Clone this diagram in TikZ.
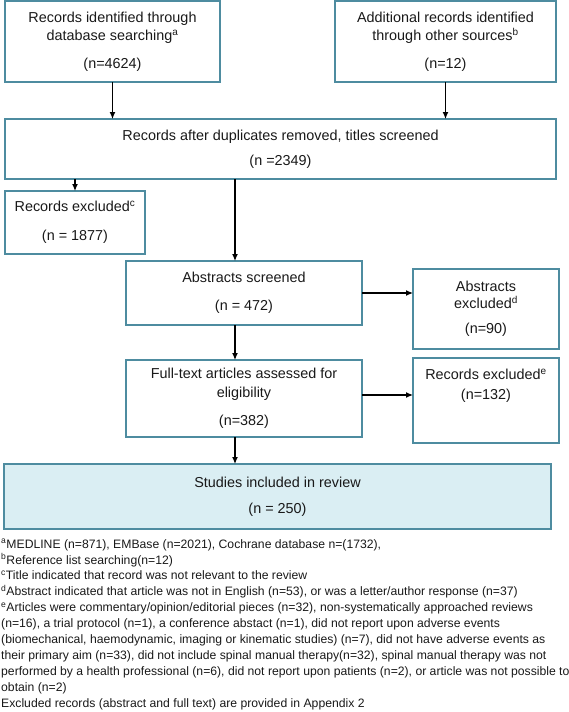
\documentclass[tikz,border=0pt]{standalone}
\usepackage{fontspec}
\setmainfont{Liberation Sans}
\usetikzlibrary{arrows.meta}
\definecolor{boxline}{RGB}{78,140,160}
\definecolor{boxfill}{RGB}{218,238,243}
\definecolor{inkc}{RGB}{25,25,25}
\tikzset{
  flowbox/.style={draw=boxline, line width=1.4pt, rectangle, inner sep=0pt, outer sep=0pt,
    align=center, text=inkc, font=\fontsize{14.4}{18}\selectfont},
  finalbox/.style={flowbox, fill=boxfill},
  arr/.style={draw=black, line width=1.2pt, -{Latex[length=7pt,width=6pt]}},
  notes/.style={anchor=north west, inner sep=0pt, align=left, text=inkc,
    font=\fontsize{12.2}{15.9}\selectfont}
}
\begin{document}
\begin{tikzpicture}[x=1pt,y=-1pt]
\useasboundingbox (0,0) rectangle (568,712);
\node[flowbox, minimum width=215pt, minimum height=81pt] (b1) at (112.5,41.5)
  {Records identified through\\database searching\textsuperscript{a}\\[10pt](n=4624)};
\node[flowbox, minimum width=221pt, minimum height=81pt] (b2) at (445.5,41.5)
  {Additional records identified\\through other sources\textsuperscript{b}\\[10pt](n=12)};
\node[flowbox, minimum width=551pt, minimum height=60pt] (b3) at (280.5,149)
  {Records after duplicates removed, titles screened\\[7pt](n =2349)};
\node[flowbox, minimum width=140pt, minimum height=63pt] (bc) at (75,222.5)
  {Records excluded\textsuperscript{c}\\[11pt](n = 1877)};
\node[flowbox, minimum width=236pt, minimum height=64pt] (bas) at (244,293)
  {Abstracts screened\\[10pt](n = 472)};
\node[flowbox, minimum width=146pt, minimum height=80pt] (bad) at (486,309)
  {Abstracts\\[-1pt]excluded\textsuperscript{d}\\[7pt](n=90)};
\node[flowbox, minimum width=236pt, minimum height=77pt] (bft) at (244,398.5)
  {Full-text articles assessed for\\[1pt]eligibility\\[10pt](n=382)};
\node[flowbox, minimum width=146pt, minimum height=85pt] (be) at (486,400.5)
  {Records excluded\textsuperscript{e}\\[2pt](n=132)\\[11pt]\phantom{(n=132)}};
\node[finalbox, minimum width=547pt, minimum height=65pt] (bs) at (277.5,496.5)
  {Studies included in review\\[8pt](n = 250)};

\draw[arr] (b1.south) -- (b1.south |- b3.north);
\draw[arr] (b2.south) -- (b2.south |- b3.north);
\draw[arr] (bc.north |- b3.south) -- (bc.north);
\draw[arr] ([xshift=-9pt]bas.north |- b3.south) -- ([xshift=-9pt]bas.north);
\draw[arr] (bas.east) -- (bas.east -| bad.west);
\draw[arr] ([xshift=-9pt]bas.south) -- ([xshift=-9pt]bft.north);
\draw[arr] ([yshift=3.5pt]bft.east) -- ([yshift=3.5pt]bft.east -| be.west);
\draw[arr] ([xshift=-9pt]bft.south) -- ([xshift=-9pt]bft.south |- bs.north);

\node[notes] (fn) at (1,539) {%
\textsuperscript{a}MEDLINE (n=871), EMBase (n=2021), Cochrane database n=(1732),\\
\textsuperscript{b}Reference list searching(n=12)\\
\textsuperscript{c}Title indicated that record was not relevant to the review\\
\textsuperscript{d}Abstract indicated that article was not in English (n=53), or was a letter/author response (n=37)\\
\textsuperscript{e}Articles were commentary/opinion/editorial pieces (n=32), non-systematically approached reviews\\
(n=16), a trial protocol (n=1), a conference abstact (n=1), did not report upon adverse events\\
(biomechanical, haemodynamic, imaging or kinematic studies) (n=7), did not have adverse events as\\
their primary aim (n=33), did not include spinal manual therapy(n=32), spinal manual therapy was not\\
performed by a health professional (n=6), did not report upon patients (n=2), or article was not possible to\\
obtain (n=2)\\
Excluded records (abstract and full text) are provided in Appendix 2};
\end{tikzpicture}
\end{document}
